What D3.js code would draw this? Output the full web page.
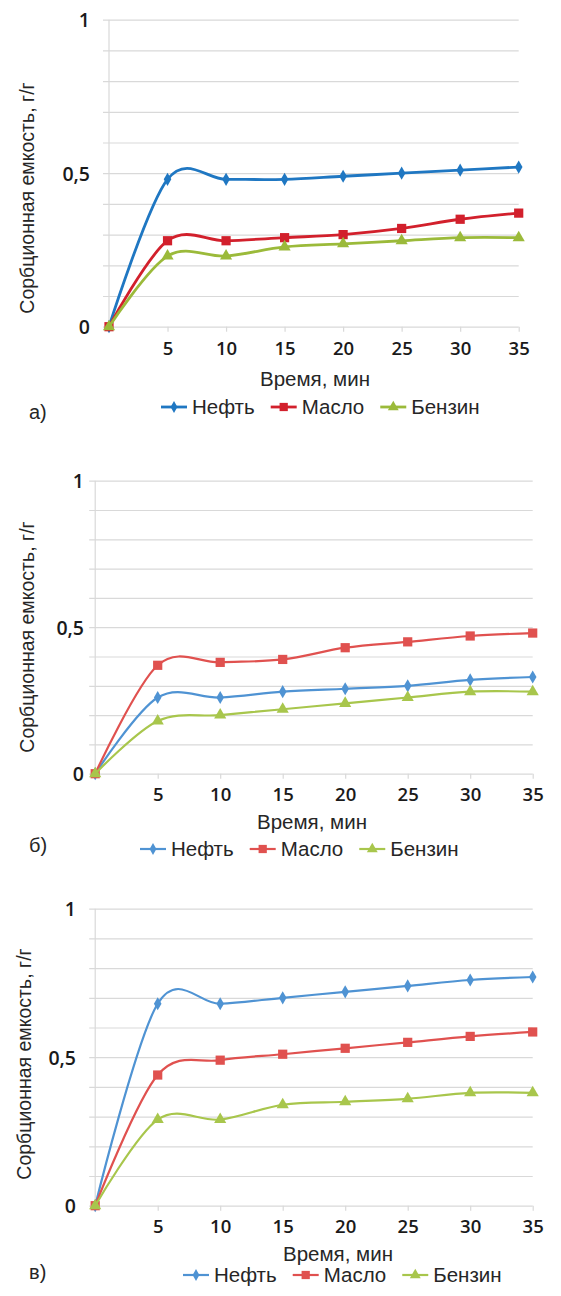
<!DOCTYPE html>
<html><head><meta charset="utf-8">
<script src="https://cdn.jsdelivr.net/npm/d3@7"></script>
<style>
html,body{margin:0;padding:0;background:#fff;}
svg{display:block;}
</style></head>
<body>
<svg id="chart" width="561" height="1296"></svg>
<script>
// ---- data ----
const times = [0, 5, 10, 15, 20, 25, 30, 35];
const seriesNames = ["Нефть", "Масло", "Бензин"];
const xTickValues = [5, 10, 15, 20, 25, 30, 35];
const yTickValues = [0, 0.5, 1];
const yTickLabels = ["0", "0,5", "1"];
const gridValues = [0, 0.1, 0.2, 0.3, 0.4, 0.5, 0.6, 0.7, 0.8, 0.9, 1.0];
const xTitle = "Время, мин";
const yTitle = "Сорбционная емкость, г/г";
const panelLabels = ["а)", "б)", "в)"];

const aNeft   = [0, 0.48, 0.48, 0.48, 0.49, 0.50, 0.51, 0.52];
const aMaslo  = [0, 0.28, 0.28, 0.29, 0.30, 0.32, 0.35, 0.37];
const aBenzin = [0, 0.23, 0.23, 0.26, 0.27, 0.28, 0.29, 0.29];

const bNeft   = [0, 0.26, 0.26, 0.28, 0.29, 0.30, 0.32, 0.33];
const bMaslo  = [0, 0.37, 0.38, 0.39, 0.43, 0.45, 0.47, 0.48];
const bBenzin = [0, 0.18, 0.20, 0.22, 0.24, 0.26, 0.28, 0.28];

const cNeft   = [0, 0.68, 0.68, 0.70, 0.72, 0.74, 0.76, 0.77];
const cMaslo  = [0, 0.44, 0.49, 0.51, 0.53, 0.55, 0.57, 0.585];
const cBenzin = [0, 0.29, 0.29, 0.34, 0.35, 0.36, 0.38, 0.38];

// ---- layout / style ----
const panels = [
  { values: [aNeft, aMaslo, aBenzin], label: panelLabels[0],
    x0: 109, x1: 518.7, yTop: 19.7, yBottom: 326.7,
    yLabelRight: 90, xLabelY: 349, titleX: 315, titleY: 379,
    legendLeft: 161, legendY: 407, panelX: 29, panelY: 412,
    yTitleX: 27, yTitleY: 198, lineW: 2.8,
    colors: ["#1f77c2", "#d2202c", "#9bba3a"] },
  { values: [bNeft, bMaslo, bBenzin], label: panelLabels[1],
    x0: 95.2, x1: 532.7, yTop: 480.7, yBottom: 773.7,
    yLabelRight: 84, xLabelY: 795, titleX: 312, titleY: 822,
    legendLeft: 140, legendY: 849, panelX: 29, panelY: 845,
    yTitleX: 27, yTitleY: 637, lineW: 2.2,
    colors: ["#4f93d3", "#e0514f", "#a8c64c"] },
  { values: [cNeft, cMaslo, cBenzin], label: panelLabels[2],
    x0: 95.2, x1: 532.7, yTop: 908.7, yBottom: 1205.7,
    yLabelRight: 76, xLabelY: 1227, titleX: 338, titleY: 1254,
    legendLeft: 183, legendY: 1275, panelX: 29, panelY: 1272,
    yTitleX: 24, yTitleY: 1064, lineW: 2.2,
    colors: ["#4f93d3", "#e0514f", "#a8c64c"] }
];

const svg = d3.select("#chart");
const tickFont = "'Open Sans', sans-serif";
const textFont = "'Liberation Sans', Arial, sans-serif";
const symbols = [d3.symbolDiamond, d3.symbolSquare, d3.symbolTriangle];
const symSizes = [50, 85, 64];

panels.forEach(p => {
  const x = d3.scaleLinear().domain([0, 35]).range([p.x0, p.x1]);
  const y = d3.scaleLinear().domain([0, 1]).range([p.yBottom, p.yTop]);
  const g = svg.append("g");
  const w = p.x1 - p.x0;

  // gridlines (via axis)
  const grid = g.append("g").attr("transform", `translate(${p.x0},0)`)
    .call(d3.axisLeft(y).tickValues(gridValues).tickSize(-w).tickFormat(""));
  grid.selectAll(".tick line").attr("x1", -6).attr("x2", w)
    .attr("stroke", "#d9d9d9").attr("stroke-width", 1.2);
  grid.select(".domain").attr("d", `M0,${p.yTop}V${p.yBottom}`)
    .attr("stroke", "#d9d9d9").attr("stroke-width", 1.2);

  // y tick labels
  const ya = g.append("g").attr("transform", `translate(${p.yLabelRight},0)`)
    .call(d3.axisLeft(y).tickValues(yTickValues).tickSize(0).tickPadding(0)
      .tickFormat((d, i) => yTickLabels[i]));
  ya.select(".domain").remove();
  ya.selectAll("text").attr("font-family", tickFont).attr("font-weight", 600)
    .attr("font-size", 19.5).attr("fill", "#1a1a1a").attr("dy", "0.35em");

  // x axis ticks
  const xa = g.append("g").attr("transform", `translate(0,${p.yBottom})`)
    .call(d3.axisBottom(x).tickValues(xTickValues).tickSize(5));
  xa.select(".domain").remove();
  xa.selectAll(".tick line").attr("stroke", "#d9d9d9").attr("stroke-width", 1.2);
  xa.selectAll("text").attr("font-family", tickFont).attr("font-weight", 600)
    .attr("font-size", 18.5).attr("fill", "#1a1a1a")
    .attr("y", p.xLabelY - p.yBottom).attr("dy", "0.35em");

  // titles
  g.append("text").attr("x", p.titleX).attr("y", p.titleY).attr("dy", "0.35em")
    .attr("text-anchor", "middle").attr("font-family", textFont).attr("font-size", 20.5)
    .attr("fill", "#262626").text(xTitle);
  g.append("text").attr("transform", `translate(${p.yTitleX},${p.yTitleY}) rotate(-90)`)
    .attr("dy", "0.35em").attr("text-anchor", "middle").attr("font-family", textFont)
    .attr("font-size", 19.5).attr("fill", "#262626").text(yTitle);
  g.append("text").attr("x", p.panelX).attr("y", p.panelY).attr("dy", "0.35em")
    .attr("font-family", textFont).attr("font-size", 20).attr("fill", "#262626").text(p.label);

  // series
  const line = d3.line().x((d, i) => x(times[i])).y(d => y(d))
    .curve(d3.curveCatmullRom.alpha(0));
  p.values.forEach((vals, si) => {
    const col = p.colors[si];
    g.append("path").datum(vals).attr("d", line).attr("fill", "none")
      .attr("stroke", col).attr("stroke-width", p.lineW);
    g.selectAll(null).data(vals).enter().append("path")
      .attr("transform", (d, i) => `translate(${x(times[i])},${y(d)})`)
      .attr("d", d3.symbol().type(symbols[si]).size(symSizes[si]))
      .attr("fill", col);
  });

  // legend
  let lx = p.legendLeft;
  seriesNames.forEach((name, si) => {
    const col = p.colors[si];
    const lg = g.append("g");
    lg.append("line").attr("x1", lx).attr("x2", lx + 26).attr("y1", p.legendY).attr("y2", p.legendY)
      .attr("stroke", col).attr("stroke-width", p.lineW);
    lg.append("path").attr("transform", `translate(${lx + 13},${p.legendY})`)
      .attr("d", d3.symbol().type(symbols[si]).size(symSizes[si] * 0.8)).attr("fill", col);
    const t = lg.append("text").attr("x", lx + 31).attr("y", p.legendY).attr("dy", "0.35em")
      .attr("font-family", textFont).attr("font-size", 20.5).attr("fill", "#262626").text(name);
    lx += 31 + t.node().getComputedTextLength() + 16;
  });
});
</script>
</body></html>
